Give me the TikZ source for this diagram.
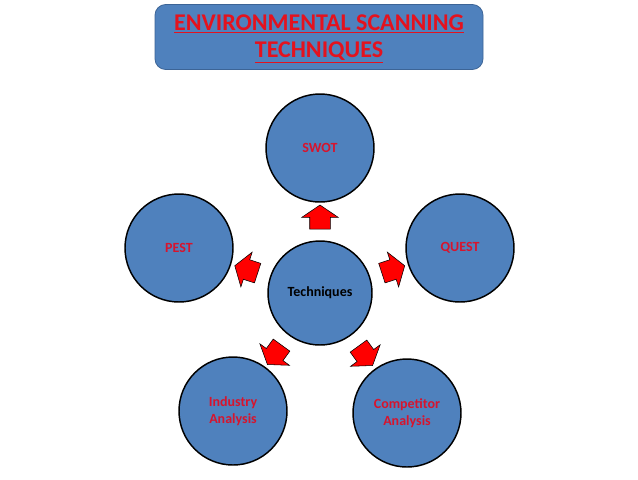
\documentclass[tikz,border=0pt]{standalone}
\usepackage{fontspec}
\setmainfont{Carlito}
\usepackage{xcolor}
\usepackage{tikz}
\usetikzlibrary{shapes.arrows,calc}

\definecolor{boxblue}{RGB}{79,129,189}
\definecolor{boxedge}{RGB}{60,100,150}
\definecolor{labelred}{RGB}{215,20,45}
\definecolor{titlered}{RGB}{228,18,30}

\tikzset{
  titlebox/.style={draw=boxedge,fill=boxblue,rounded corners=8pt,line width=0.6pt,
    minimum width=246pt,minimum height=48.75pt},
  titletext/.style={align=center,text=titlered,inner sep=0pt,
    font=\fontsize{18}{20}\selectfont\bfseries},
  topic/.style={circle,draw=black,fill=boxblue,line width=1.1pt,minimum size=81pt,
    inner sep=0pt,align=center,text=labelred,font=\fontsize{10.5}{12.75}\selectfont\bfseries},
  hub/.style={topic,minimum size=78pt,text=black},
  blockarrow/.style={single arrow,draw=black,fill=red,line width=0.4pt,
    inner xsep=0pt,inner ysep=7.5pt,minimum height=18pt,
    single arrow head extend=6pt,single arrow tip angle=112},
}

\begin{document}
\begin{tikzpicture}[x=0.75pt,y=0.75pt,yscale=-1,xscale=1]
\useasboundingbox (0,0) rectangle (638,479);

% heading
\node [titlebox] (head) at (319,37) {};
\node [titletext] (headtext) at ($(head.center)+(0,2)$) {\underline{ENVIRONMENTAL SCANNING}\\\underline{TECHNIQUES}};

% circles
\node [hub] (tech) at (320,293) {Techniques};
\node [topic] (swot) at (320,148) {SWOT};
\node [topic] (pest) at (179,248) {PEST};
\node [topic] (quest) at (460,248) {QUEST};
\node [topic] (industry) at (233,411) {Industry\\Analysis};
\node [topic] (competitor) at (407,413) {Competitor\\Analysis};

% arrows
\node [blockarrow,rotate=90] (toswot) at ($(tech)!0.5!(swot)$) {};
\node [blockarrow,rotate=162] (topest) at ($(tech)!0.5!(pest)$) {};
\node [blockarrow,rotate=18] (toquest) at ($(tech)!0.5!(quest)$) {};
\node [blockarrow,rotate=234] (toindustry) at ($(tech)!0.5!(industry)$) {};
\node [blockarrow,rotate=306] (tocompetitor) at ($(tech)!0.5!(competitor)$) {};

\end{tikzpicture}
\end{document}
